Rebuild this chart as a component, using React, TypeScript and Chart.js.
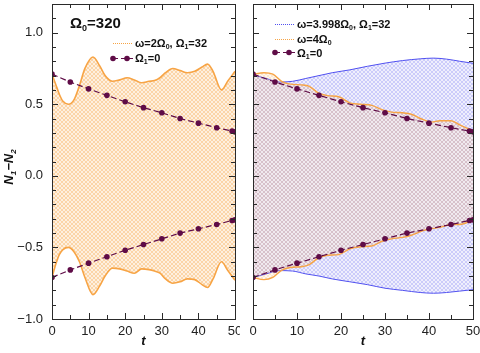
import React, { useEffect, useRef } from 'react';
import { Chart, registerables } from 'chart.js';
Chart.register(...registerables);

// Ω1 = 0 reference curves (same in both panels)
const refT = [0, 5, 10, 15, 20, 25, 30, 35, 40, 45, 49.2, 50];
const refUpper = [0.71, 0.655, 0.607, 0.562, 0.517, 0.476, 0.44, 0.40, 0.368, 0.336, 0.312, 0.307];
const refLower = [-0.71, -0.657, -0.61, -0.565, -0.52, -0.48, -0.44, -0.40, -0.37, -0.34, -0.312, -0.308];

// Left panel: ω = 2Ω0, Ω1 = 32 — envelope of the fast oscillation
const leftT = [0, 1, 2, 3, 4.5, 6, 7.5, 9, 11.2, 13, 14.5, 16.5, 18.5, 20.5, 22.5, 24.5, 26.5, 28, 29.5, 31, 33, 35, 37, 39, 41, 42.5, 44, 46.3, 48, 50];
const leftUpper = [0.71, 0.64, 0.57, 0.52, 0.50, 0.53, 0.63, 0.75, 0.83, 0.77, 0.70, 0.66, 0.67, 0.685, 0.67, 0.65, 0.66, 0.665, 0.685, 0.72, 0.75, 0.735, 0.72, 0.73, 0.76, 0.78, 0.73, 0.60, 0.66, 0.73];
const leftLower = [-0.71, -0.62, -0.55, -0.515, -0.50, -0.53, -0.60, -0.71, -0.83, -0.77, -0.70, -0.645, -0.65, -0.665, -0.68, -0.65, -0.655, -0.665, -0.68, -0.72, -0.75, -0.74, -0.72, -0.725, -0.76, -0.78, -0.72, -0.60, -0.66, -0.73];

// Right panel: ω = 4Ω0 (orange) envelope
const rightOrangeT = [0, 2.5, 4.5, 6.5, 8.5, 11, 12.8, 14.8, 17, 19.5, 22, 24.5, 27, 29.5, 31.5, 34, 36, 38.5, 40.5, 42.5, 45, 47, 50];
const rightOrangeUpper = [0.71, 0.72, 0.71, 0.66, 0.64, 0.635, 0.625, 0.58, 0.56, 0.552, 0.51, 0.50, 0.492, 0.46, 0.445, 0.44, 0.43, 0.395, 0.375, 0.385, 0.385, 0.355, 0.315];
const rightOrangeLower = [-0.71, -0.725, -0.71, -0.66, -0.64, -0.635, -0.62, -0.575, -0.555, -0.55, -0.51, -0.495, -0.49, -0.455, -0.44, -0.43, -0.415, -0.385, -0.37, -0.36, -0.34, -0.34, -0.31];

// Right panel: ω = 3.998Ω0, Ω1 = 32 (blue) envelope
const rightBlueT = [0, 3, 6, 9, 12, 15, 18, 22, 26, 30, 34, 38, 41, 44, 47, 50];
const rightBlueUpper = [0.705, 0.68, 0.655, 0.66, 0.68, 0.70, 0.72, 0.74, 0.765, 0.787, 0.805, 0.817, 0.822, 0.815, 0.80, 0.786];
const rightBlueLower = [-0.71, -0.685, -0.662, -0.665, -0.685, -0.70, -0.72, -0.74, -0.76, -0.785, -0.80, -0.815, -0.82, -0.815, -0.805, -0.795];

const xTickLabels = [0, 10, 20, 30, 40, 50];
const yTickLabels = [-1, -0.5, 0, 0.5, 1];

const PURPLE = '#5f0c47';
const ORANGE_EDGE = '#f7a445';
const BLUE_EDGE = '#5050f0';
const FONT = '"Liberation Sans", Arial, sans-serif';

const pts = (t: number[], v: number[]) => t.map((x, i) => ({ x, y: v[i] }));

// subtle diagonal mesh imitating the dense fast-oscillation lines
function mesh(r: number, g: number, b: number, base: number, line: number): CanvasPattern | string {
  const c = document.createElement('canvas');
  c.width = 4; c.height = 4;
  const x = c.getContext('2d');
  if (!x) return `rgba(${r},${g},${b},${base})`;
  x.fillStyle = `rgba(${r},${g},${b},${base})`;
  x.fillRect(0, 0, 4, 4);
  x.fillStyle = `rgba(${r},${g},${b},${line})`;
  for (let i = 0; i < 4; i++) {
    x.fillRect(i, i, 1, 1);
    if (3 - i !== i) x.fillRect(3 - i, i, 1, 1);
  }
  const p = x.createPattern(c, 'repeat');
  return p || `rgba(${r},${g},${b},${base})`;
}

type Part = [string, boolean?];
function drawRich(ctx: CanvasRenderingContext2D, parts: Part[], x: number, y: number, size: number, weight: string) {
  let cx = x;
  ctx.textBaseline = 'alphabetic';
  ctx.textAlign = 'left';
  for (const [txt, sub] of parts) {
    const s = sub ? Math.round(size * 0.62) : size;
    ctx.font = `${weight} ${s}px ${FONT}`;
    ctx.fillText(txt, cx, sub ? y + size * 0.22 : y);
    cx += ctx.measureText(txt).width;
  }
}

function bandSets(t: number[], up: number[], lo: number[], edge: string, fillC: any, bw: number) {
  const common = {
    borderColor: edge,
    borderWidth: bw,
    pointRadius: 0,
    tension: 0.4,
    cubicInterpolationMode: 'monotone' as const,
  };
  return [
    { ...common, data: pts(t, up), fill: '+1', backgroundColor: fillC },
    { ...common, data: pts(t, lo), fill: false },
  ];
}

function refSets() {
  const common = {
    borderColor: PURPLE,
    backgroundColor: PURPLE,
    borderWidth: 1.2,
    borderDash: [6, 3],
    pointRadius: 2.8,
    pointBorderWidth: 0,
    pointBackgroundColor: PURPLE,
    fill: false,
    tension: 0,
  };
  return [
    { ...common, data: pts(refT, refUpper) },
    { ...common, data: pts(refT, refLower) },
  ];
}

function Panel({ side }: { side: 'left' | 'right' }) {
  const ref = useRef<HTMLCanvasElement | null>(null);
  useEffect(() => {
    const canvas = ref.current!;
    const isLeft = side === 'left';
    const datasets: any[] = [...refSets()];
    if (isLeft) {
      datasets.push(...bandSets(leftT, leftUpper, leftLower, ORANGE_EDGE, mesh(248, 165, 70, 0.17, 0.36), 1.6));
    } else {
      datasets.push(...bandSets(rightOrangeT, rightOrangeUpper, rightOrangeLower, ORANGE_EDGE, mesh(248, 165, 70, 0.08, 0.2), 1.4));
      datasets.push(...bandSets(rightBlueT, rightBlueUpper, rightBlueLower, BLUE_EDGE, mesh(100, 100, 240, 0.1, 0.25), 1));
    }

    const framePlugin = {
      id: 'frame' + side,
      afterDatasetsDraw(chart: any) {
        const { ctx, chartArea: a, scales } = chart;
        const xs = scales.x, ys = scales.y;
        ctx.save();
        ctx.strokeStyle = '#2a2a2a';
        ctx.lineWidth = 1;
        ctx.beginPath();
        for (let i = 0; i <= 10; i++) {
          const px = Math.round(xs.getPixelForValue(i * 5)) + 0.5;
          const L = i % 2 === 0 ? 6 : 4;
          ctx.moveTo(px, a.bottom); ctx.lineTo(px, a.bottom - L);
          ctx.moveTo(px, a.top); ctx.lineTo(px, a.top + L);
        }
        for (let i = -10; i <= 12; i++) {
          const py = Math.round(ys.getPixelForValue(i / 10)) + 0.5;
          const L = i % 5 === 0 ? 6 : 4;
          ctx.moveTo(a.left, py); ctx.lineTo(a.left + L, py);
          ctx.moveTo(a.right, py); ctx.lineTo(a.right - L, py);
        }
        ctx.stroke();
        ctx.strokeRect(Math.round(a.left) + 0.5, Math.round(a.top) + 0.5, Math.round(a.right - a.left), Math.round(a.bottom - a.top));
        ctx.restore();
      },
      afterDraw(chart: any) {
        const { ctx, chartArea: a } = chart;
        ctx.save();
        ctx.fillStyle = '#111';
        ctx.font = `italic bold 13px ${FONT}`;
        ctx.textAlign = 'center';
        ctx.textBaseline = 'alphabetic';
        ctx.fillText('t', (a.left + a.right) / 2, 345);
        const sample = (y: number, x0: number, color: string, dotted: boolean, dots: boolean) => {
          ctx.save();
          ctx.strokeStyle = color;
          ctx.lineWidth = dotted ? 1 : 1.2;
          ctx.setLineDash(dotted ? [1, 1] : [5, 3]);
          ctx.beginPath();
          ctx.moveTo(x0, y + 0.5); ctx.lineTo(x0 + 20, y + 0.5);
          ctx.stroke();
          if (dots) {
            ctx.fillStyle = color;
            for (const dx of [0, 14]) {
              ctx.beginPath(); ctx.arc(x0 + dx, y + 0.5, 2.8, 0, Math.PI * 2); ctx.fill();
            }
          }
          ctx.restore();
        };
        if (isLeft) {
          drawRich(ctx, [['Ω'], ['0', true], ['=320']], 70, 28, 15, 'bold');
          sample(43, 113, ORANGE_EDGE, true, false);
          drawRich(ctx, [['ω=2Ω'], ['0', true], [', Ω'], ['1', true], ['=32']], 135, 47, 11, 'bold');
          sample(58, 113, PURPLE, false, true);
          drawRich(ctx, [['Ω'], ['1', true], ['=0']], 135, 62, 11, 'bold');
          ctx.save();
          ctx.translate(13, 167);
          ctx.rotate(-Math.PI / 2);
          const parts: Part[] = [['N'], ['1', true], ['−N'], ['2', true]];
          let w = 0;
          for (const [t, s] of parts) { ctx.font = `italic bold ${s ? 8 : 13}px ${FONT}`; w += ctx.measureText(t).width; }
          drawRich(ctx, parts, -w / 2, 0, 13, 'italic bold');
          ctx.restore();
        } else {
          const ox = 240;
          sample(24, 275 - ox, BLUE_EDGE, true, false);
          drawRich(ctx, [['ω=3.998Ω'], ['0', true], [', Ω'], ['1', true], ['=32']], 297 - ox, 28, 11, 'bold');
          sample(39, 275 - ox, ORANGE_EDGE, true, false);
          drawRich(ctx, [['ω=4Ω'], ['0', true]], 297 - ox, 43, 11, 'bold');
          sample(52, 275 - ox, PURPLE, false, true);
          drawRich(ctx, [['Ω'], ['1', true], ['=0']], 297 - ox, 57, 11, 'bold');
        }
        ctx.restore();
      },
    };

    const chart = new Chart(canvas, {
      type: 'line',
      data: { datasets },
      plugins: [framePlugin],
      options: {
        animation: false,
        responsive: false,
        devicePixelRatio: 1,
        layout: { padding: isLeft ? { left: 0, right: 5, top: 0, bottom: 0 } : { left: 13, right: 7, top: 0, bottom: 0 } },
        plugins: { legend: { display: false }, tooltip: { enabled: false } },
        scales: {
          x: {
            type: 'linear',
            min: 0,
            max: 50,
            grid: { display: false, drawTicks: false },
            border: { display: false },
            afterBuildTicks: (s: any) => { s.ticks = xTickLabels.map((v) => ({ value: v })); },
            afterFit: (s: any) => { s.height = 34; s.paddingLeft = 0; s.paddingRight = 0; },
            ticks: { padding: 5, color: '#222', font: { family: FONT, size: 13 }, maxRotation: 0, autoSkip: false },
          },
          y: {
            type: 'linear',
            min: -1,
            max: 1.2,
            display: isLeft,
            grid: { display: false, drawTicks: false },
            border: { display: false },
            afterBuildTicks: (s: any) => { s.ticks = yTickLabels.map((v) => ({ value: v })); },
            afterFit: (s: any) => { s.width = isLeft ? 52 : 0; s.paddingTop = 0; s.paddingBottom = 0; },
            ticks: {
              padding: 9,
              color: '#222',
              font: { family: FONT, size: 13 },
              callback: (v: any) => { const n = Number(v); return (n < 0 ? '\u2212' : '') + Math.abs(n).toFixed(1); },
            },
          },
        },
      },
    } as any);
    return () => chart.destroy();
  }, [side]);
  return (
    <canvas
      ref={ref}
      width={240}
      height={353}
      style={{ position: 'absolute', left: side === 'left' ? 0 : 240, top: 0, width: 240, height: 353 }}
    />
  );
}

export default function App() {
  return (
    <div style={{ position: 'fixed', left: 0, top: 0, width: 480, height: 353, background: '#fff', overflow: 'hidden' }}>
      <Panel side="left" />
      <Panel side="right" />
    </div>
  );
}
